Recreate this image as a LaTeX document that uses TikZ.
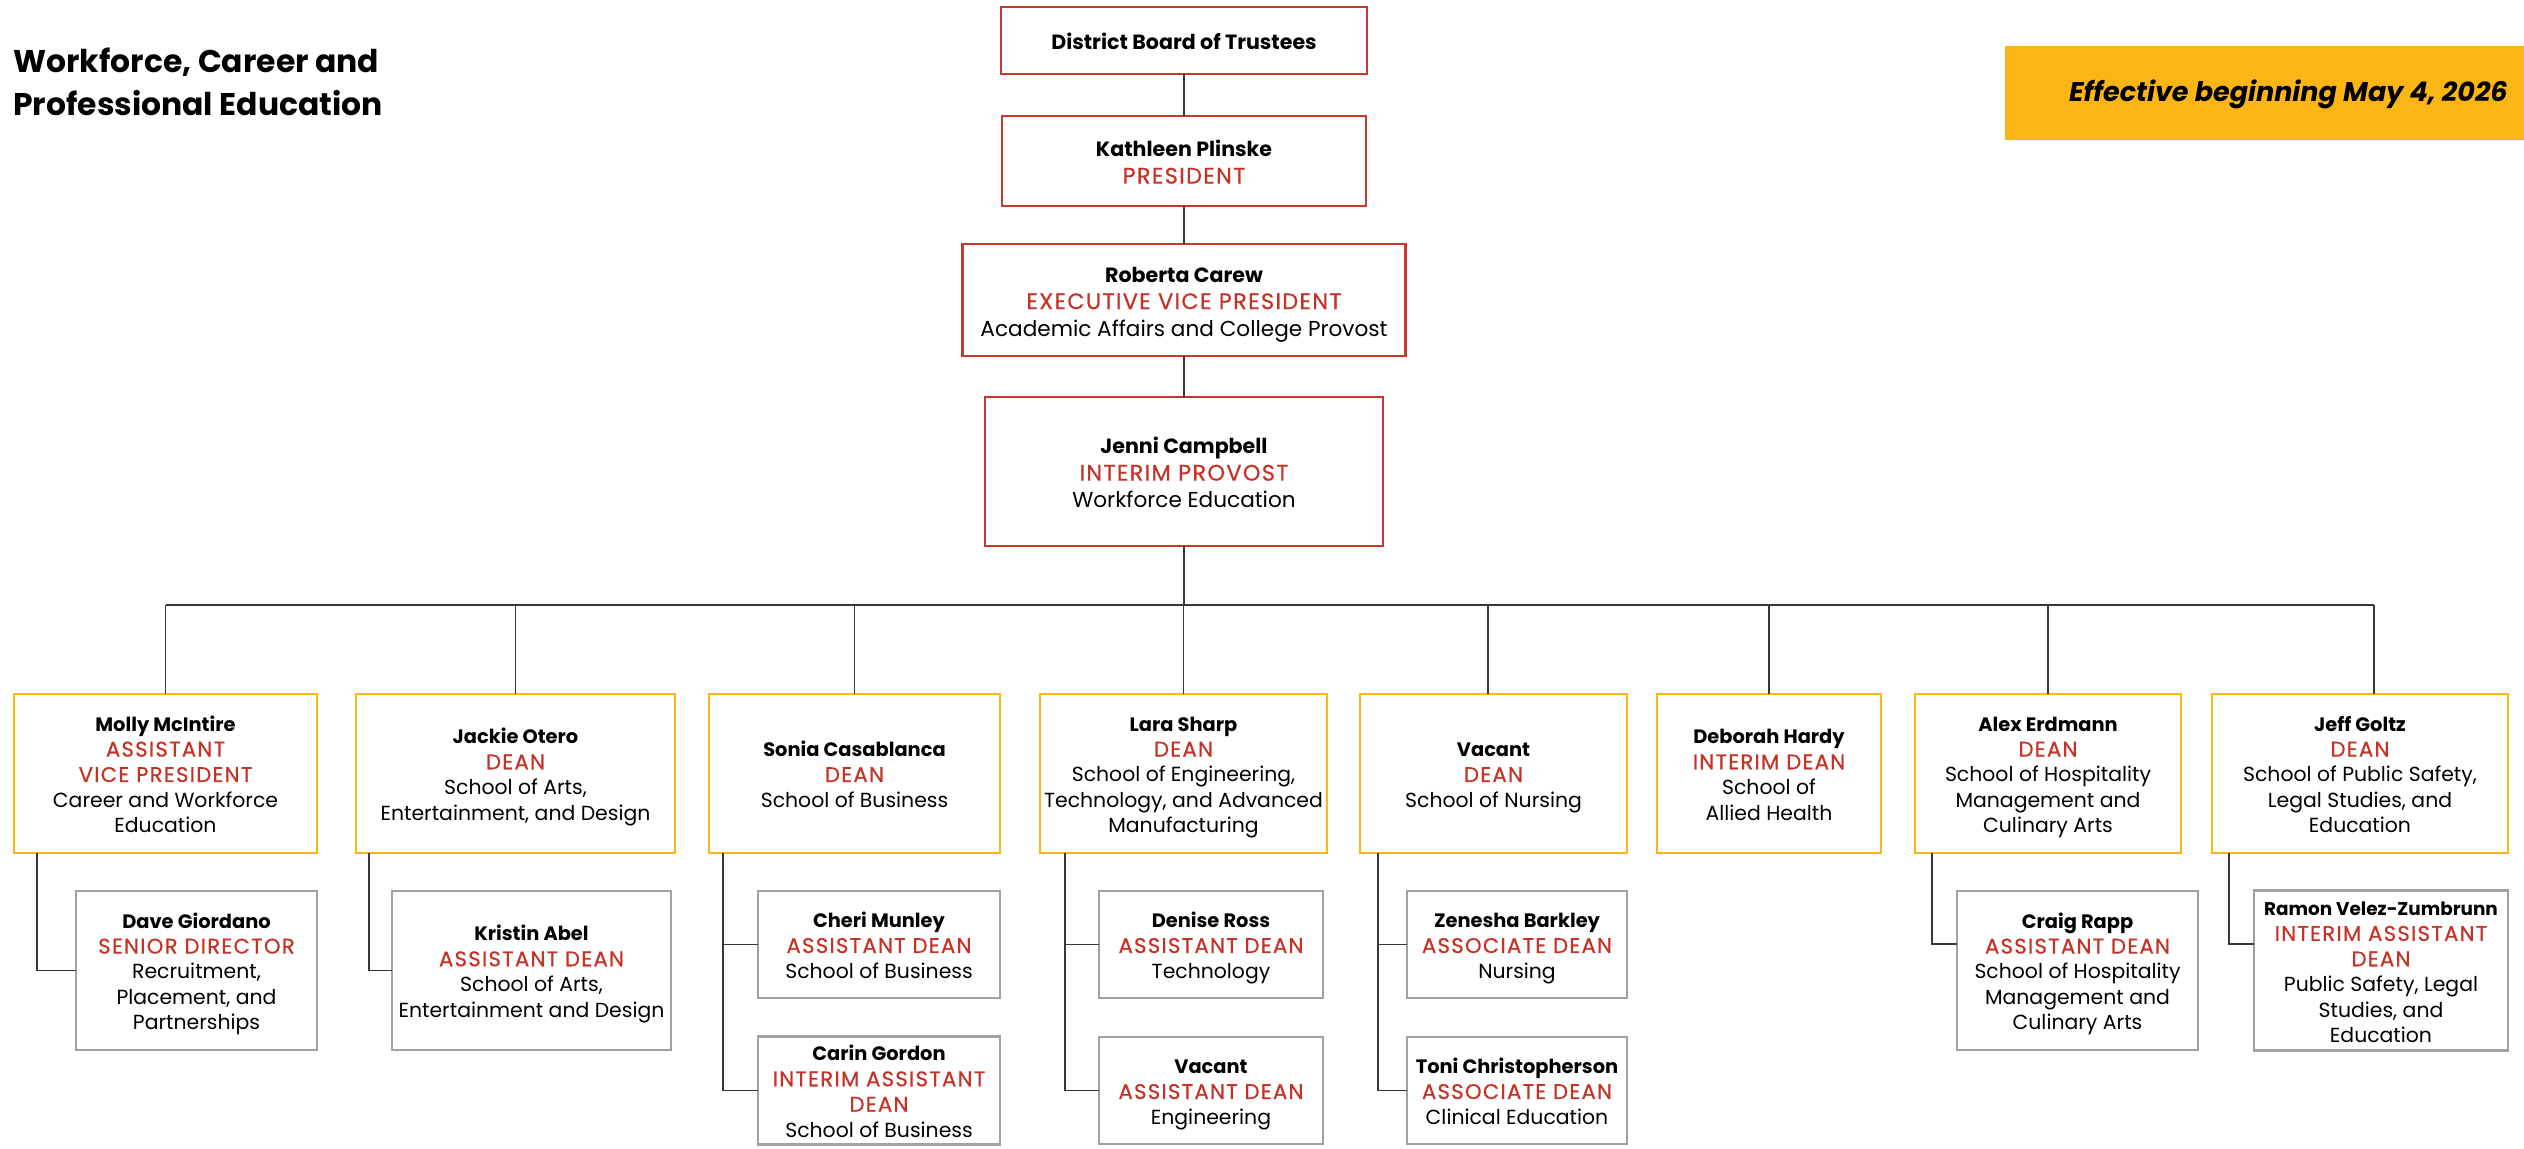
\documentclass[tikz,border=0pt]{standalone}
\usepackage{fontspec}
\setmainfont{Poppins}
\newfontfamily\redfont[LetterSpace=6,FakeBold=0.6]{Poppins}
\usetikzlibrary{calc}
\definecolor{ttl}{RGB}{198,50,38}
\definecolor{redb}{RGB}{200,55,45}
\definecolor{yelb}{RGB}{251,182,21}
\definecolor{grayb}{RGB}{160,160,165}
\definecolor{linec}{RGB}{55,55,55}
\def\csk{12.7}\def\nmsz{9.7}\def\rlsz{10.6}\def\stA{12.3pt}
\newcommand\nm[1]{{\fontsize{\nmsz}{\csk}\selectfont\bfseries #1}}
\newcommand\rl[1]{{\redfont\fontsize{\rlsz}{\csk}\selectfont\color{ttl}#1}}
\newcommand\cardtext[1]{\begin{tabular}{@{}c@{}}\rule{0pt}{\stA}#1\end{tabular}}
\tikzset{
  cardbase/.style={rectangle, inner sep=0pt, outer sep=0pt, text=black,
    font=\def\csk{12.7}\def\nmsz{9.7}\def\rlsz{10.6}\def\stA{12.3pt}\fontsize{10.2}{12.7}\selectfont},
  topcard/.style={cardbase, draw=redb, line width=1.3pt,
    font=\def\csk{13.5}\def\nmsz{10.3}\def\rlsz{11.2}\def\stA{13.15pt}\fontsize{10.8}{13.5}\selectfont},
  deancard/.style={cardbase, draw=yelb, line width=1.4pt},
  subcard/.style={cardbase, draw=grayb, line width=1.4pt},
  conn/.style={draw=linec, line width=0.65pt},
}
\begin{document}
\begin{tikzpicture}[x=0.5pt,y=-0.5pt]
\useasboundingbox (0,0) rectangle (2524,1149);
\fill[white] (0,0) rectangle (2524,1149);

% title
\node[anchor=base west, inner sep=0pt, font=\fontsize{15.7}{20}\selectfont\bfseries] (title1) at (13,73) {Workforce, Career and};
\node[anchor=base west, inner sep=0pt, font=\fontsize{15.7}{20}\selectfont\bfseries] (title2) at (13,116) {Professional Education};

% effective
\node[fill=yelb, inner sep=0pt, minimum width=259.5pt, minimum height=47pt] (eff) at (2264.5,93) {};
\node[anchor=base east, inner sep=0pt, font=\fontsize{13.5}{16}\selectfont\bfseries\itshape] (efftext) at (2508,102) {Effective beginning May 4, 2026};

% top chain
\node[topcard, minimum width=183pt, minimum height=33.5pt] (dbt) at (1184,40.5) {\cardtext{\nm{District Board of Trustees}}};
\node[topcard, minimum width=182pt, minimum height=45pt] (kp) at (1184,161) {\cardtext{\nm{Kathleen Plinske}\\\rl{PRESIDENT}}};
\node[topcard, minimum width=221.5pt, minimum height=56pt] (rc) at (1184,300) {\cardtext{\nm{Roberta Carew}\\\rl{EXECUTIVE VICE PRESIDENT}\\Academic Affairs and College Provost}};
\node[topcard, minimum width=199pt, minimum height=74.5pt] (jc) at (1184,471.5) {\cardtext{\nm{Jenni Campbell}\\\rl{INTERIM PROVOST}\\Workforce Education}};

% deans
\node[deancard, minimum width=151.5pt, minimum height=79.5pt] (molly) at (165.5,773.5) {\cardtext{\nm{Molly McIntire}\\\rl{ASSISTANT}\\\rl{VICE PRESIDENT}\\Career and Workforce\\Education}};
\node[deancard, minimum width=159.5pt, minimum height=79.5pt] (jackie) at (515.5,773.5) {\cardtext{\nm{Jackie Otero}\\\rl{DEAN}\\School of Arts,\\Entertainment, and Design}};
\node[deancard, minimum width=145.5pt, minimum height=79.5pt] (sonia) at (854.5,773.5) {\cardtext{\nm{Sonia Casablanca}\\\rl{DEAN}\\School of Business}};
\node[deancard, minimum width=143.5pt, minimum height=79.5pt] (lara) at (1183.5,773.5) {\cardtext{\nm{Lara Sharp}\\\rl{DEAN}\\School of Engineering,\\Technology, and Advanced\\Manufacturing}};
\node[deancard, minimum width=133.5pt, minimum height=79.5pt] (nurs) at (1493.5,773.5) {\cardtext{\nm{Vacant}\\\rl{DEAN}\\School of Nursing}};
\node[deancard, minimum width=112pt, minimum height=79.5pt] (deb) at (1769,773.5) {\cardtext{\nm{Deborah Hardy}\\\rl{INTERIM DEAN}\\School of\\Allied Health}};
\node[deancard, minimum width=133pt, minimum height=79.5pt] (alex) at (2048,773.5) {\cardtext{\nm{Alex Erdmann}\\\rl{DEAN}\\School of Hospitality\\Management and\\Culinary Arts}};
\node[deancard, minimum width=148pt, minimum height=79.5pt] (jeff) at (2360,773.5) {\cardtext{\nm{Jeff Goltz}\\\rl{DEAN}\\School of Public Safety,\\Legal Studies, and\\Education}};

% sub
\node[subcard, minimum width=120.5pt, minimum height=79.5pt] (dave) at (196.5,970.5) {\cardtext{\nm{Dave Giordano}\\\rl{SENIOR DIRECTOR}\\Recruitment,\\Placement, and\\Partnerships}};
\node[subcard, minimum width=139.5pt, minimum height=79.5pt] (kristin) at (531.5,970.5) {\cardtext{\nm{Kristin Abel}\\\rl{ASSISTANT DEAN}\\School of Arts,\\Entertainment and Design}};
\node[subcard, minimum width=121pt, minimum height=53.5pt] (cheri) at (879,944.5) {\cardtext{\nm{Cheri Munley}\\\rl{ASSISTANT DEAN}\\School of Business}};
\node[subcard, minimum width=121pt, minimum height=53.5pt] (carin) at (879,1090.5) {\cardtext{\nm{Carin Gordon}\\\rl{INTERIM ASSISTANT}\\\rl{DEAN}\\School of Business}};
\node[subcard, minimum width=112pt, minimum height=53.5pt] (denise) at (1211,944.5) {\cardtext{\nm{Denise Ross}\\\rl{ASSISTANT DEAN}\\Technology}};
\node[subcard, minimum width=112pt, minimum height=53.5pt] (veng) at (1211,1090.5) {\cardtext{\nm{Vacant}\\\rl{ASSISTANT DEAN}\\Engineering}};
\node[subcard, minimum width=110pt, minimum height=53.5pt] (zen) at (1517,944.5) {\cardtext{\nm{Zenesha Barkley}\\\rl{ASSOCIATE DEAN}\\Nursing}};
\node[subcard, minimum width=110pt, minimum height=53.5pt] (toni) at (1517,1090.5) {\cardtext{\nm{Toni Christopherson}\\\rl{ASSOCIATE DEAN}\\Clinical Education}};
\node[subcard, minimum width=120.5pt, minimum height=79.5pt] (craig) at (2077.5,970.5) {\cardtext{\nm{Craig Rapp}\\\rl{ASSISTANT DEAN}\\School of Hospitality\\Management and\\Culinary Arts}};
\node[subcard, minimum width=127pt, minimum height=79.5pt] (ramon) at (2381,970.5) {\cardtext{{\fontsize{9.2}{12.7}\selectfont\bfseries Ramon Velez-Zumbrunn}\\\rl{INTERIM ASSISTANT}\\\rl{DEAN}\\Public Safety, Legal\\Studies, and\\Education}};

% connectors top
\draw[conn] (dbt.south) -- (kp.north);
\draw[conn] (kp.south) -- (rc.north);
\draw[conn] (rc.south) -- (jc.north);
\coordinate (bus) at (1184,605);
\draw[conn] (jc.south) -- (bus);
\coordinate (nurstop) at ([xshift=-2.75pt]nurs.north);
\coordinate (jefftop) at ([xshift=7pt]jeff.north);
\draw[conn] (molly.north |- bus) -- (jefftop |- bus);
\foreach \n in {molly,jackie,sonia,lara,deb,alex}{
  \draw[conn] (\n.north) -- (\n.north |- bus);
}
\draw[conn] (nurstop) -- (nurstop |- bus);
\draw[conn] (jefftop) -- (jefftop |- bus);

% connectors down
\coordinate (mollyd) at ([xshift=11.5pt]molly.south west);
\draw[conn] (mollyd) |- (dave.west);
\coordinate (jackied) at ([xshift=6.5pt]jackie.south west);
\draw[conn] (jackied) |- (kristin.west);
\coordinate (soniad) at ([xshift=7pt]sonia.south west);
\draw[conn] (soniad) |- (carin.west);
\draw[conn] (soniad |- cheri.west) -- (cheri.west);
\coordinate (larad) at ([xshift=12.5pt]lara.south west);
\draw[conn] (larad) |- (veng.west);
\draw[conn] (larad |- denise.west) -- (denise.west);
\coordinate (nursd) at ([xshift=9pt]nurs.south west);
\draw[conn] (nursd) |- (toni.west);
\draw[conn] (nursd |- zen.west) -- (zen.west);
\coordinate (alexd) at ([xshift=8.5pt]alex.south west);
\draw[conn] (alexd) |- ([yshift=13.25pt]craig.west);
\coordinate (jeffd) at ([xshift=8.5pt]jeff.south west);
\draw[conn] (jeffd) |- ([yshift=13.25pt]ramon.west);
\end{tikzpicture}
\end{document}
